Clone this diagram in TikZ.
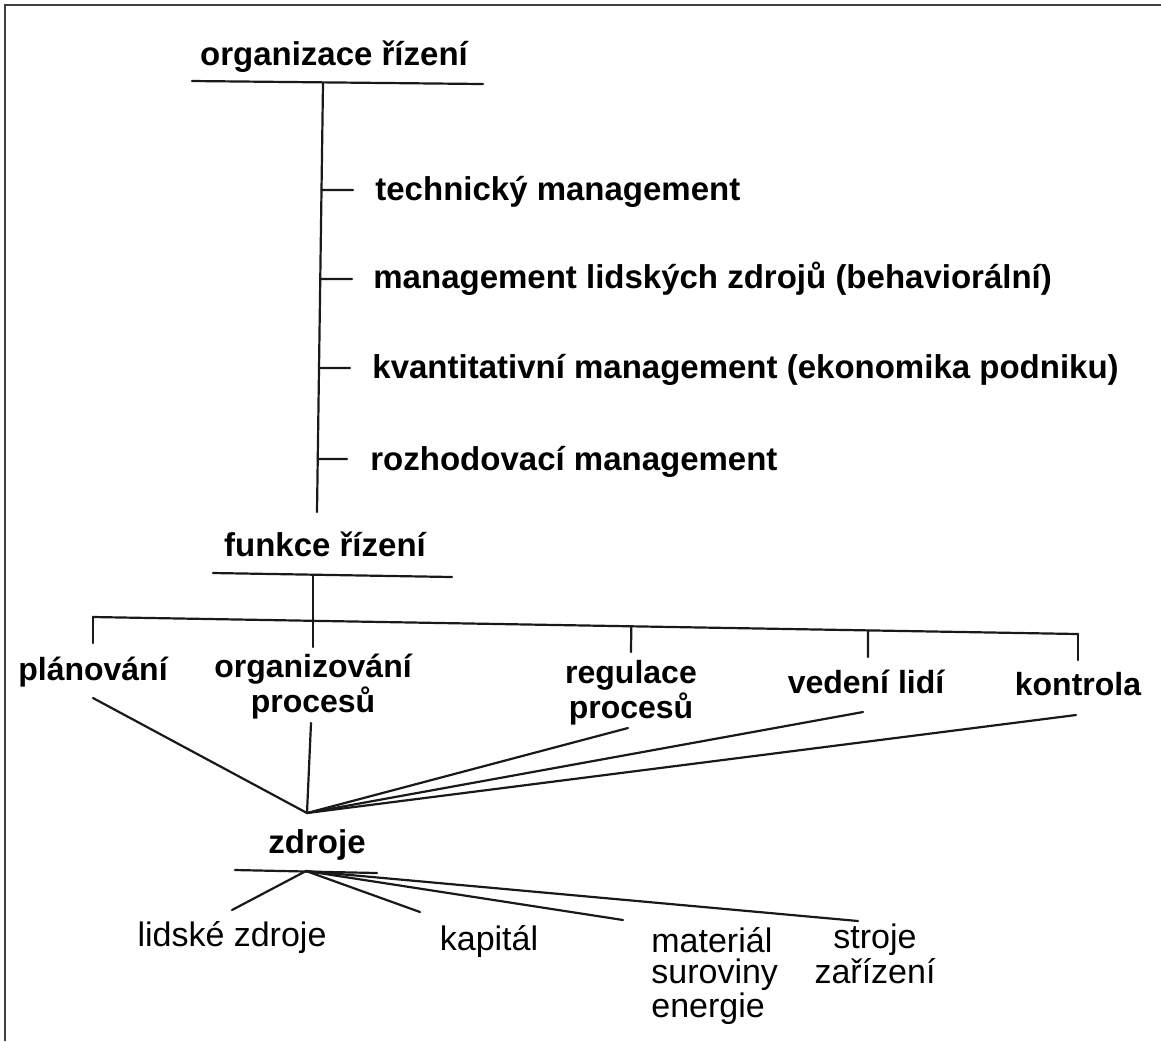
\documentclass[tikz,border=0pt]{standalone}
\usepackage{fontspec}
\setmainfont{Liberation Sans}
\usetikzlibrary{calc}
\begin{document}
\begin{tikzpicture}[x=0.5pt,y=-0.5pt,
  ln/.style={line width=1.1pt, black!90, line cap=round},
  framestyle/.style={line width=1pt, black!75},
  head/.style={font=\fontsize{16.5}{18}\selectfont\bfseries, inner sep=0pt, anchor=base},
  item/.style={font=\fontsize{16.5}{18}\selectfont\bfseries, inner sep=0pt, anchor=base west},
  func/.style={font=\fontsize{16}{14.5}\selectfont\bfseries, inner sep=0pt, anchor=base, align=center},
  res/.style={font=\fontsize{17}{15.5}\selectfont, inner sep=0pt, anchor=base, align=center},
]
\useasboundingbox (0,0) rectangle (1161,1041);

% page frame
\draw[framestyle] (5,1041) -- (5,5) -- (1161,5);

% ---- organizace řízení ----
\node[head] (org) at (334,65) {organizace řízení};
\coordinate (orgL) at (192,81);
\coordinate (orgR) at (483,84);
\draw[ln] (orgL) -- (orgR);

\coordinate (tA) at (323,83);
\coordinate (tB) at (317,512);
\draw[ln] (tA) -- (tB);

\node[item] (m1) at (375,200) {technický management};
\node[item] (m2) at (373,288) {management lidských zdrojů (behaviorální)};
\node[item] (m3) at (372,378) {kvantitativní management (ekonomika podniku)};
\node[item] (m4) at (370,470) {rozhodovací management};

\coordinate (k1) at ($(tA)!0.2494!(tB)$);
\coordinate (k2) at ($(tA)!0.4569!(tB)$);
\coordinate (k3) at ($(tA)!0.6643!(tB)$);
\coordinate (k4) at ($(tA)!0.8765!(tB)$);
\draw[ln] (k1) -- ($(m1.base west)+(-22,-10)$);
\draw[ln] (k2) -- ($(m2.base west)+(-21,-9)$);
\draw[ln] (k3) -- ($(m3.base west)+(-22,-10)$);
\draw[ln] (k4) -- ($(m4.base west)+(-23,-11)$);

% ---- funkce řízení ----
\node[head] (fun) at (325,556) {funkce řízení};
\coordinate (funL) at (213,573);
\coordinate (funR) at (452,577);
\draw[ln] (funL) -- (funR);

\coordinate (busL) at (93,617);
\coordinate (busR) at (1078,634);
\draw[ln] (busL) -- (busR);

% multi-line labels: the base anchor sits on the last line
\node[func] (plan) at (93,680) {plánování};
\node[func] (orgp) at (313,712) {organizování\\procesů};
\node[func] (reg)  at (631,718) {regulace\\procesů};
\node[func] (ved)  at (866,693) {vedení lidí};
\node[func] (kon)  at (1078,695) {kontrola};

\coordinate (funC) at (313,575);
\draw[ln] (busL) -- ($(plan.base)+(0,-37)$);
\draw[ln] (funC) -- ($(orgp.base)+(0,-65)$);
\draw[ln] ($(busL)!0.5465!(busR)$) -- ($(reg.base)+(0,-66)$);
\draw[ln] ($(busL)!0.7868!(busR)$) -- ($(ved.base)+(2,-36)$);
\draw[ln] (busR) -- ($(kon.base)+(0,-35)$);

% all functions lead to the resources
\coordinate (hub) at (307,813);
\draw[ln] ($(plan.base)+(0,18)$) -- (hub);
\draw[ln] ($(orgp.base)+(-2,11)$) -- (hub);
\draw[ln] ($(reg.base)+(-3,10)$) -- (hub);
\draw[ln] ($(ved.base)+(-3,19)$) -- (hub);
\draw[ln] ($(kon.base)+(-2,20)$) -- (hub);

% ---- zdroje ----
\node[head] (zdr) at (317,853) {zdroje};
\coordinate (zL) at (235,870);
\coordinate (zR) at (377,873);
\draw[ln] (zL) -- (zR);
\coordinate (zhub) at (306,871);

\node[res] (lid) at (232,946) {lidské zdroje};
\node[res] (kap) at (489,950) {kapitál};
\node[res, anchor=base west, align=left] (mat) at (651,1017) {materiál\\suroviny\\energie};
\node[res] (str) at (875,983) {stroje\\zařízení};

\draw[ln] (zhub) -- ($(lid.base)+(0,-36)$);
\draw[ln] (zhub) -- ($(kap.base)+(-69,-38)$);
\draw[ln] (zhub) -- ($(mat.base west)+(-28,-97)$);
\draw[ln] (zhub) -- ($(str.base)+(-17,-62)$);
\end{tikzpicture}
\end{document}
